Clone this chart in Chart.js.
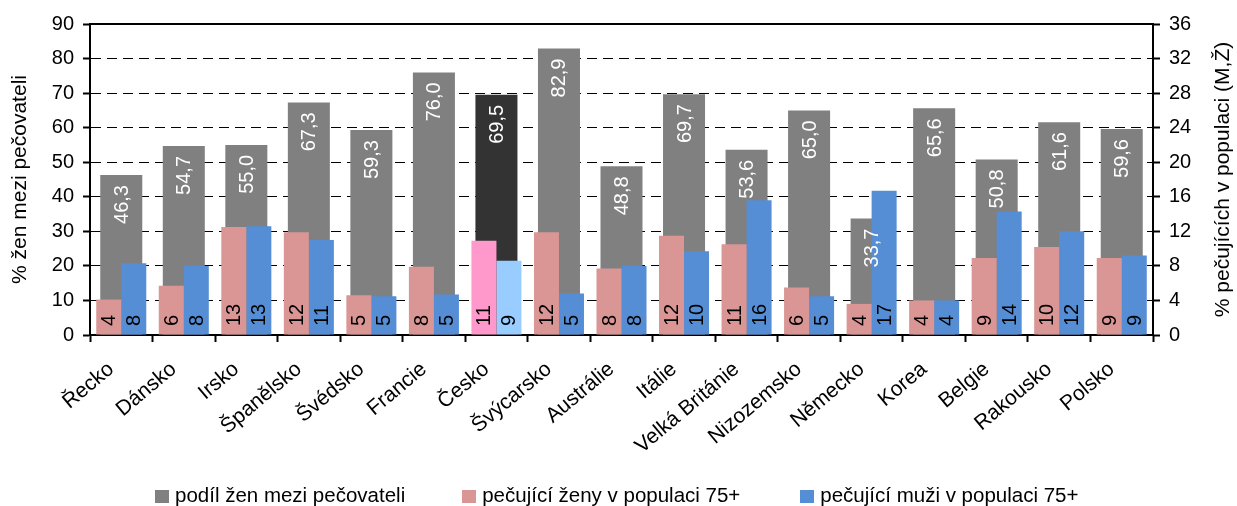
<!DOCTYPE html>
<html>
<head>
<meta charset="utf-8">
<script src="https://cdn.jsdelivr.net/npm/chart.js@4.4.0/dist/chart.umd.min.js"></script>
<style>
  html, body { margin: 0; padding: 0; background: #fff; }
  #wrap { position: relative; width: 1237px; height: 506px; }
  #legend { position: absolute; left: 155px; top: 484px; display: flex; font-family: "Liberation Sans", Arial, sans-serif; font-size: 20.5px; line-height: 22px; color: #000; }
  .item { display: flex; align-items: center; white-space: nowrap; }
  .item:nth-child(1) { margin-right: 57px; }
  .item:nth-child(2) { margin-right: 60px; }
  .box { width: 14px; height: 13px; margin-right: 6px; margin-top: 3px; }
</style>
</head>
<body>
<div id="wrap">
  <canvas id="c" width="1237" height="506"></canvas>
  <div id="legend"></div>
</div>
<script>
const categories = ["Řecko", "Dánsko", "Irsko", "Španělsko", "Švédsko", "Francie", "Česko", "Švýcarsko", "Austrálie", "Itálie", "Velká Británie", "Nizozemsko", "Německo", "Korea", "Belgie", "Rakousko", "Polsko"];
const womenShare = [46.3, 54.7, 55.0, 67.3, 59.3, 76.0, 69.5, 82.9, 48.8, 69.7, 53.6, 65.0, 33.7, 65.6, 50.8, 61.6, 59.6];
const womenCarers = [4.1, 5.7, 12.5, 11.9, 4.6, 7.9, 10.9, 11.9, 7.7, 11.5, 10.5, 5.5, 3.6, 4.0, 8.9, 10.2, 8.9];
const menCarers = [8.3, 8.0, 12.6, 11.0, 4.5, 4.7, 8.6, 4.8, 8.0, 9.7, 15.6, 4.5, 16.7, 4.0, 14.3, 12.0, 9.2];
const leftTicks = [0, 10, 20, 30, 40, 50, 60, 70, 80, 90];
const rightTicks = [0, 4, 8, 12, 16, 20, 24, 28, 32, 36];
const seriesNames = ["podíl žen mezi pečovateli", "pečující ženy v populaci 75+", "pečující muži v populaci 75+"];
const leftTitle = "% žen mezi pečovateli";
const rightTitle = "% pečujících v populaci (M,Ž)";
const highlight = "Česko";

const colGrey = "#808080", colGreyHi = "#333333";
const colPink = "#D99694", colPinkHi = "#FF99CC";
const colBlue = "#558ED5", colBlueHi = "#99CCFF";
const FONT = '"Liberation Sans", Arial, sans-serif';

Chart.defaults.font.family = FONT;
Chart.defaults.color = "#000";

const pick = (base, hi) => categories.map(c => c === highlight ? hi : base);

const labelPlugin = {
  id: "valueLabels",
  afterDatasetsDraw(chart) {
    const ctx = chart.ctx;
    const bottom = chart.chartArea.bottom;
    chart.data.datasets.forEach((ds, di) => {
      const meta = chart.getDatasetMeta(di);
      meta.data.forEach((bar, i) => {
        const v = ds.data[i];
        ctx.save();
        ctx.font = "20px " + FONT;
        ctx.textBaseline = "middle";
        if (di === 0) {
          ctx.translate(bar.x, bar.y + 10);
          ctx.rotate(-Math.PI / 2);
          ctx.fillStyle = "#fff";
          ctx.textAlign = "right";
          ctx.fillText(v.toFixed(1).replace(".", ","), 0, 1);
        } else {
          ctx.translate(bar.x, bottom - 9);
          ctx.rotate(-Math.PI / 2);
          ctx.fillStyle = "#000";
          ctx.textAlign = "left";
          ctx.fillText(String(Math.round(v)), 0, 1);
        }
        ctx.restore();
      });
    });
  },
  afterDraw(chart) {
    const ctx = chart.ctx;
    const a = chart.chartArea;
    ctx.save();
    ctx.strokeStyle = "#000";
    ctx.lineWidth = 2;
    ctx.beginPath();
    ctx.moveTo(a.left - 1, a.top);
    ctx.lineTo(a.right + 1, a.top);
    ctx.stroke();
    ctx.translate(1223, (a.top + a.bottom) / 2);
    ctx.rotate(-Math.PI / 2);
    ctx.font = "21px " + FONT;
    ctx.fillStyle = "#000";
    ctx.textAlign = "center";
    ctx.textBaseline = "middle";
    ctx.fillText(rightTitle, 0, 0);
    ctx.restore();
  }
};

new Chart(document.getElementById("c"), {
  type: "bar",
  data: {
    labels: categories,
    datasets: [
      { label: seriesNames[0], data: womenShare, backgroundColor: pick(colGrey, colGreyHi), yAxisID: "y", grouped: false, barPercentage: 0.672, categoryPercentage: 1, order: 2 },
      { label: seriesNames[1], data: womenCarers, backgroundColor: pick(colPink, colPinkHi), yAxisID: "y2", barPercentage: 1, categoryPercentage: 0.8, order: 1 },
      { label: seriesNames[2], data: menCarers, backgroundColor: pick(colBlue, colBlueHi), yAxisID: "y2", barPercentage: 1, categoryPercentage: 0.8, order: 1 }
    ]
  },
  options: {
    responsive: false,
    animation: false,
    devicePixelRatio: 1,
    layout: { padding: { top: 24, left: 0, right: 0, bottom: 0 } },
    plugins: { legend: { display: false }, tooltip: { enabled: false } },
    scales: {
      x: {
        offset: true,
        grid: { display: true, offset: true, drawOnChartArea: false, tickLength: 7, tickColor: "#000", tickWidth: 2 },
        border: { display: true, color: "#000", width: 2 },
        ticks: { color: "#000", font: { size: 21 }, minRotation: 40, maxRotation: 40, autoSkip: false, padding: 15, labelOffset: -10 },
        afterFit(a) { a.height = 171; }
      },
      y: {
        position: "left", min: 0, max: 90,
        afterBuildTicks(a) { a.ticks = leftTicks.map(v => ({ value: v })); },
        ticks: { color: "#000", font: { size: 20 }, padding: 9 },
        grid: { color: "#000", lineWidth: 1, tickLength: 7, tickColor: "#000", tickWidth: 2, tickBorderDash: [] },
        border: { display: true, color: "#000", width: 2, dash: [10, 6] },
        title: { display: true, text: leftTitle, color: "#000", font: { size: 21 }, padding: { top: 8, bottom: 0 } },
        afterFit(a) { a.width = 90; }
      },
      y2: {
        position: "right", min: 0, max: 36,
        afterBuildTicks(a) { a.ticks = rightTicks.map(v => ({ value: v })); },
        ticks: { color: "#000", font: { size: 20 }, padding: 9 },
        grid: { drawOnChartArea: false, tickLength: 7, tickColor: "#000", tickWidth: 2 },
        border: { display: true, color: "#000", width: 2 },
        afterFit(a) { a.width = 84; }
      }
    }
  },
  plugins: [labelPlugin]
});

const legend = document.getElementById("legend");
const legendColors = [colGrey, colPink, colBlue];
seriesNames.forEach((name, i) => {
  const item = document.createElement("div");
  item.className = "item";
  const box = document.createElement("span");
  box.className = "box";
  box.style.background = legendColors[i];
  const txt = document.createElement("span");
  txt.textContent = name;
  item.appendChild(box);
  item.appendChild(txt);
  legend.appendChild(item);
});
</script>
</body>
</html>
